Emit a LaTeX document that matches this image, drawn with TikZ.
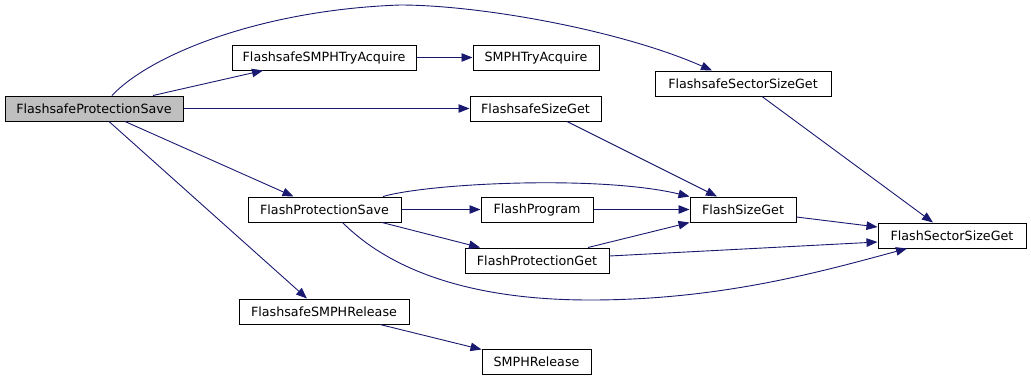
\documentclass[tikz,border=0pt]{standalone}
\usepackage{fontspec}
\setmainfont{DejaVu Sans}
\usetikzlibrary{arrows.meta}
\definecolor{edgeblue}{HTML}{191970}
\definecolor{rootfill}{HTML}{BFBFBF}
\tikzset{
  fn/.style={draw=black, fill=white, line width=1pt, rectangle, inner sep=0pt,
    minimum height=25pt, font=\fontsize{12.7}{15}\selectfont},
  root/.style={fn, fill=rootfill},
  call/.style={draw=edgeblue, line width=0.9pt,
    -{Triangle[length=11pt,width=8.5pt]}},
}
\begin{document}
\begin{tikzpicture}[x=1pt,y=-1pt]
\useasboundingbox (0,0) rectangle (1031,381);

% functions
\node[root, minimum width=178pt] (fps)      at (94,108.5)  {FlashsafeProtectionSave};
\node[fn,   minimum width=184pt] (tryacq)   at (324,57.5)  {FlashsafeSMPHTryAcquire};
\node[fn,   minimum width=126pt] (smphtry)  at (536,57.5)  {SMPHTryAcquire};
\node[fn,   minimum width=131pt] (fsizeget) at (535.5,108.5) {FlashsafeSizeGet};
\node[fn,   minimum width=176pt] (fsecsize) at (743,83.5)  {FlashsafeSectorSizeGet};
\node[fn,   minimum width=153pt] (fprotsave) at (324.5,209.5) {FlashProtectionSave};
\node[fn,   minimum width=112pt] (fprog)    at (537,209.5) {FlashProgram};
\node[fn,   minimum width=106pt] (fsizeg)   at (743,209.5) {FlashSizeGet};
\node[fn,   minimum width=144pt] (fprotget) at (537,260.5) {FlashProtectionGet};
\node[fn,   minimum width=148pt] (fsecs)    at (952,235.5) {FlashSectorSizeGet};
\node[fn,   minimum width=170pt] (rel)      at (324,311.5) {FlashsafeSMPHRelease};
\node[fn,   minimum width=109pt] (smphrel)  at (536.5,361.5) {SMPHRelease};

% waypoints of the long curved calls
\coordinate (topbend) at (400,5);
\coordinate (lowbend) at (590,300);

% calls
\draw[call] ([xshift=59pt]fps.north) -- ([xshift=-61pt]tryacq.south);
\draw[call] (fps.east) -- (fsizeget.west);
\draw[call] ([xshift=18pt]fps.north) .. controls (150,55) and (260,10) .. (topbend)
  .. controls (480,5) and (620,30) .. ([xshift=-31pt]fsecsize.north);
\draw[call] ([xshift=31pt]fps.south) -- ([xshift=-31pt]fprotsave.north);
\draw[call] ([xshift=15pt]fps.south) -- ([xshift=-17pt]rel.north);
\draw[call] (tryacq.east) -- (smphtry.west);
\draw[call] ([xshift=31.5pt]fsizeget.south) -- ([xshift=-26pt]fsizeg.north);
\draw[call] ([xshift=19pt]fsecsize.south) -- ([xshift=-19pt]fsecs.north);
\draw[call] ([xshift=58.5pt]fprotsave.north) .. controls (430,183) and (600,175) .. (fsizeg.north west);
\draw[call] (fprotsave.east) -- (fprog.west);
\draw[call] ([xshift=57.5pt]fprotsave.south) -- ([xshift=-57pt]fprotget.north);
\draw[call] ([xshift=18pt]fprotsave.south) .. controls (390,270) and (470,300) .. (lowbend)
  .. controls (720,300) and (820,272) .. ([xshift=-45pt]fsecs.south);
\draw[call] (fprog.east) -- (fsizeg.west);
\draw[call] ([xshift=51pt]fprotget.north) -- (fsizeg.south west);
\draw[call] ([yshift=4.5pt]fprotget.east) -- ([yshift=-6.5pt]fsecs.west);
\draw[call] ([yshift=-7.5pt]fsizeg.east) -- ([yshift=8.5pt]fsecs.west);
\draw[call] ([xshift=56pt]rel.south) -- ([yshift=-1pt]smphrel.north west);
\end{tikzpicture}
\end{document}
